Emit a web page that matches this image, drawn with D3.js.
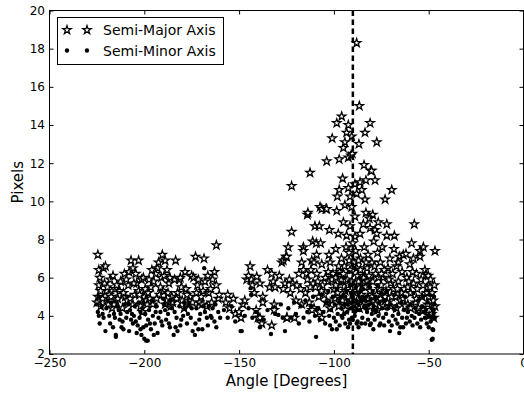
<!DOCTYPE html>
<html>
<head>
<meta charset="utf-8">
<script src="https://cdn.jsdelivr.net/npm/d3@7"></script>
<style>
  body { margin: 0; background: #fff; }
  svg text { font-family: "DejaVu Sans", sans-serif; fill: #000; }
</style>
</head>
<body>
<div id="chart"></div>
<script>
// tick values
var xTicks = [-250, -200, -150, -100, -50, 0];
var yTicks = [2, 4, 6, 8, 10, 12, 14, 16, 18, 20];
var markerAngle = -90;
var seriesNames = ["Semi-Major Axis", "Semi-Minor Axis"];

// [angle, pixels]
var majorPts = [
  [-224.5,7.2],[-224,6.4],[-223.5,6.0],[-224,5.6],[-224.5,5.0],[-225,4.7],[-223,4.5],[-222,4.9],[-221.5,6.5],[-220.5,6.6],
  [-220,5.3],[-219,4.6],[-218.5,5.1],[-218,5.9],[-217,4.4],[-216.5,6.1],[-215.5,5.4],[-215,4.8],[-214,4.9],[-213,5.3],
  [-212.5,5.8],[-211.5,4.4],[-210.5,6.2],[-210,5.0],[-209,4.8],[-208.5,5.6],[-208,6.3],[-207,6.9],[-206,6.5],[-206,4.6],
  [-205,5.1],[-204.5,6.2],[-204,5.7],[-203,6.9],[-203,5.3],[-202,4.5],[-201.5,5.9],[-201,4.2],[-200.5,6.0],[-200,5.0],
  [-199.5,5.4],[-199,4.8],
  [-198,5.2],[-197,4.9],[-196.5,5.5],[-195.5,4.6],[-195,5.8],[-194,6.2],[-193,6.5],[-192.5,6.8],[-192,5.1],[-191,6.0],
  [-190.5,7.2],[-190,5.3],[-189.5,6.1],[-189,6.9],[-188.5,4.8],[-188,6.4],[-187,5.7],[-186,4.5],[-185.5,5.0],[-185,4.7],
  [-184,5.9],[-183.5,6.9],[-182.5,5.2],[-181.5,5.9],[-181,6.0],[-180,4.8],[-179,4.4],[-178,5.4],[-177,4.6],[-176,5.0],
  [-175,6.1],[-174,6.0],[-173,7.1],[-172.5,5.2],[-172,5.6],[-171,4.7],[-170,5.0],[-169,5.3],[-168.5,7.0],[-168,5.8],
  [-167,4.5],[-166,5.2],[-165,5.4],[-164,5.9],[-163,6.3],[-162,7.7],[-162,5.6],[-161,4.9],[-160.5,5.1],
  [-157,4.7],[-156,5.1],[-155,4.4],[-153,4.9],[-152,4.1],[-150,4.2],[-149,3.9],[-148,4.6],[-147,4.8],[-146,5.9],
  [-145,6.1],[-144.2,6.6],[-143.5,5.9],[-143,5.6],[-142,5.2],[-140.7,6.05],[-141,4.3],[-140,3.9],[-139,5.7],[-139,3.9],
  [-138,3.6],[-137.5,5.0],[-137.5,4.7],[-135,6.4],[-134,5.5],[-132.8,6.2],[-132.8,3.5],[-132,5.8],[-131.5,4.6],[-131,5.5],
  [-131.5,4.3],[-128.8,6.1],[-127.5,6.8],[-126.7,6.9],[-126.7,5.4],[-125.3,7.1],[-125.8,5.7],[-124.9,7.1],[-124.9,3.9],[-124.1,7.6],
  [-124.7,3.9],[-123.5,5.9],[-123,5.2],[-122.3,10.8],[-122.3,8.4],[-121.7,5.7],[-120.8,3.9],
  [-119.5,5.6],[-117.5,5.4],[-117,6.8],[-116.1,7.6],[-116.1,7.4],[-116.1,6.4],[-114.4,6.2],[-114,9.3],[-114,5.9],[-113.7,9.4],
  [-112.6,11.5],[-112.1,6.4],[-111.7,6.9],[-111.2,7.9],[-111,5.7],[-110.5,6.8],[-110.5,4.4],[-110,8.7],[-109.7,5.5],[-109.3,7.8],
  [-109.1,7.2],[-107.7,8.7],[-107.5,4.2],[-107.3,9.7],[-107,7.8],[-106.4,9.6],[-106.4,6.7],[-106.4,3.9],[-105,5.1],[-104.2,9.6],
  [-103.8,12.1],[-103.8,9.6],[-103,5.8],[-102.6,7.2],[-102.4,8.5],[-102,6.8],[-101,4.8],[-100.9,13.3],[-100.5,6.2],[-100,5.4],
  [-99,7.5],[-98.5,14.1],[-98.5,9.5],[-98.2,10.25],[-97.7,8.3],[-97.2,12.2],[-97.2,10.6],[-97,6.3],[-96.5,5.6],[-96,7.0],
  [-95.9,14.45],[-95.4,11.2],[-95,12.8],[-95,8.9],[-94.5,6.6],[-94.2,13.1],[-94.2,9.8],[-93.6,7.6],[-93.3,13.6],[-93.3,8.2],
  [-93,5.9],[-92.4,14.0],[-92.4,12.3],[-92.4,10.7],[-92,7.3],[-91.5,10.25],[-91.5,8.7],[-91.5,6.4],[-91,12.4],[-90.6,13.4],
  [-90.6,9.7],[-90.3,12.5],[-90,7.8],[-90,5.2],
  [-89.5,6.8],[-88.9,10.9],[-88.9,9.2],[-88.9,8.15],[-88.5,7.4],[-88,18.3],[-88,10.4],[-87.5,6.1],[-86.8,13.0],[-86.6,15.0],
  [-86.2,11.0],[-86.2,8.3],[-86,7.0],[-85.3,10.6],[-85,5.6],[-84.5,8.8],[-84.1,11.9],[-84,7.6],[-83.6,13.6],[-83.6,10.1],
  [-83.1,11.1],[-83.1,9.4],[-82.5,6.5],[-82,7.2],[-81.3,9.1],[-81,5.9],[-80.9,14.1],[-80.9,8.6],[-80.6,11.6],[-80.1,11.6],
  [-80,6.8],[-79.5,9.3],[-79,7.9],[-78.3,11.1],[-78.3,8.5],[-78,6.2],[-77.4,13.1],[-77.4,8.3],[-77,7.3],[-76.6,8.9],
  [-76,5.4],[-75.5,6.8],
  [-74.5,7.6],[-74,6.0],[-73,10.1],[-72.5,5.3],[-72.1,8.8],[-72.1,8.2],[-71.5,6.5],[-70.5,7.0],[-70,5.7],[-69.5,10.6],
  [-69,6.2],[-68.3,7.5],[-68.1,8.2],[-67.5,5.0],[-67,6.6],[-66,5.8],[-65.5,7.1],[-65,4.8],[-64,6.3],[-63.4,7.2],
  [-63,5.4],[-62,7.25],[-61.5,6.0],[-61,4.6],[-60,6.7],[-59.5,5.2],[-59,7.8],[-58.1,7.0],[-58,5.7],[-57.6,8.8],
  [-57,4.7],[-56.5,6.2],[-56,5.4],[-55.5,4.4],[-54.6,7.4],[-54.6,7.1],[-54,5.9],[-53.5,5.0],[-52.8,7.6],[-52.5,4.3],
  [-52,6.4],[-51.5,6.15],[-51,5.2],[-50.8,5.5],[-50.5,4.6],[-50.2,6.1],[-49.8,4.0],[-49.3,5.5],[-49,5.9],[-48.4,4.1],
  [-48.2,5.2],[-47.6,4.8],[-47.3,3.9],[-46.7,4.5],[-46.7,7.4],[-47,5.6],
  [-108,5.0],[-106,5.6],[-104,4.7],[-103,6.3],[-102,4.4],[-101,5.9],[-99.5,4.9],[-99,6.0],[-98,5.2],[-97.5,4.5],
  [-96,5.9],[-95.5,4.8],[-95,6.2],[-94,5.3],[-93.5,4.5],[-92.5,5.6],[-92,6.9],[-91,4.8],[-90.5,5.8],[-89.5,4.6],
  [-89,5.5],[-88,6.5],[-87.5,4.9],[-87,5.8],[-86.5,4.4],[-86,6.4],[-85.5,5.1],[-84.5,6.0],[-84,4.7],[-83.5,5.5],
  [-83,6.8],[-82,4.9],[-81.5,6.1],[-81,5.3],[-80.5,4.5],[-79.5,5.8],[-79,4.8],[-78.5,6.6],[-77.5,5.1],[-77,4.3],
  [-76.5,6.0],[-75.5,4.9],[-75,5.6],[-74,4.5],[-73.5,6.4],[-73,5.0],[-71,5.9],[-70,4.5],[-68.5,5.4],[-67,4.4],
  [-66,6.8],[-64.5,5.2],[-62.5,4.5],[-61,5.5],[-59.5,4.4],[-58.5,6.3],
  [-120,4.8],[-118.5,6.2],[-117,4.6],[-115,5.2],[-113,4.7],[-112.5,5.5],[-111.5,4.3],[-109,6.2],[-108.5,5.8],
  [-223,5.3],[-221,5.7],[-219.5,5.5],[-217.5,5.0],[-216,4.6],[-214.5,5.6],[-211,5.2],[-209.5,5.9],[-207.5,4.9],[-205.5,5.7],
  [-202.5,5.1],[-198.5,4.6],[-197.5,5.9],[-196,6.4],[-193.5,4.9],[-191.5,5.5],[-189,4.6],[-187.5,5.2],[-186.5,6.0],[-183,4.9],
  [-180.5,5.5],[-178.5,6.3],[-177.5,5.1],[-174.5,4.7],[-171.5,5.9],[-169.5,4.6],[-166.5,6.1],[-164.5,4.7],[-106.5,5.3],[-104.5,6.0],
  [-99,5.6],[-97.5,6.6],[-94,4.3],[-89,5.0],[-87,6.9],[-85,4.5],[-82.5,5.8],[-80,5.0],[-78,4.6],[-75,6.2],
  [-72,4.7],[-69.5,5.0],[-66.5,5.4],[-63.5,4.9],[-60.5,5.8],[-56.5,4.9],[-53,5.6],[-50,5.0]
];

var minorPts = [
  [-225,4.6],[-224.5,4.2],[-224,5.0],[-223.5,3.6],[-222.5,4.5],[-221.5,3.9],[-220.5,3.2],[-219.5,4.8],[-218.5,4.0],[-217.5,4.7],
  [-216.5,3.4],[-215.5,3.9],[-215,3.0],[-215,2.9],[-214,4.5],[-213,3.8],[-212.5,4.1],[-212,3.4],[-211,3.3],[-210.5,4.6],
  [-209.5,3.9],[-209,4.2],[-208,3.2],[-207.5,4.3],[-207,3.8],[-206,3.6],[-205.5,4.0],[-205,4.5],[-204,3.1],[-203.5,3.5],
  [-203,4.7],[-202.5,3.9],[-202,3.3],[-201.5,3.0],[-201,4.4],[-200.5,3.4],[-200,2.8],[-199,2.7],[-198.2,2.7],[-199.5,4.1],
  [-198,3.8],[-197.5,4.3],[-196.5,3.3],[-196,4.8],[-195.5,4.0],[-194.5,3.6],[-193.5,4.5],[-193,3.1],[-192.5,3.9],[-191.5,4.2],
  [-190.5,3.5],[-190,4.9],[-189.5,4.6],[-188.5,3.8],[-187.5,4.1],[-186.5,3.4],[-185.5,4.4],[-184.5,3.0],
  [-184,4.2],[-183.5,3.4],[-182.5,3.2],[-181.5,4.5],[-180.5,3.8],[-179.5,4.0],[-178.5,4.4],[-177.5,3.6],[-176.5,4.6],[-175.5,3.9],
  [-174.5,3.2],[-173.3,3.0],[-172.5,4.4],[-171.5,3.3],[-170.5,4.1],[-169.4,3.3],[-168.4,6.5],[-168,4.2],[-167,3.9],[-166,4.5],
  [-165,4.0],[-164,4.4],[-163,3.7],[-162.5,4.6],[-161,4.2],[-160,3.9],
  [-158,4.3],[-156,3.9],[-154,4.5],[-152,3.7],[-149.2,3.2],[-148.6,3.2],[-147,4.0],[-145,4.4],[-143.9,5.45],[-143.7,5.1],
  [-143,3.9],[-141,4.2],[-139,3.4],[-137,3.8],[-135,4.3],[-133.2,3.05],[-131,4.1],[-129.3,4.05],[-128,4.6],[-127,3.9],
  [-125.8,3.2],
  [-124,4.4],[-122.5,3.9],[-121,4.7],[-120,4.1],[-118.5,3.6],[-117.5,4.5],[-116,3.9],[-115,4.8],[-114,4.2],[-112.9,3.7],
  [-112,4.5],[-111,5.0],[-110,4.0],[-109.4,2.9],[-108.5,4.4],[-107.5,3.8],[-106.5,5.1],[-105.5,4.2],[-104.6,3.6],[-104,4.7],
  [-103,5.3],[-102,3.5],[-101.5,4.3],[-100.5,5.0],[-100,3.9],
  [-99.5,4.6],[-99,3.7],[-98.5,5.4],[-98,4.1],[-97.5,4.9],[-97,3.5],[-96.5,5.7],[-96,4.4],[-95.5,3.9],[-95,5.1],
  [-94.5,4.6],[-94,3.6],[-93.5,5.3],[-93,4.2],[-92.5,4.8],[-92,3.8],[-91.5,5.6],[-91,4.4],[-90.5,3.9],[-90,5.0],
  [-90,3.8],[-89.5,4.5],[-89,4.0],[-88.5,5.5],[-88,4.7],[-87.5,3.7],[-87,5.2],[-86.5,4.3],[-86,6.0],[-85.5,4.8],
  [-85,3.9],[-84.5,5.4],[-84,4.5],[-83.5,3.6],[-83,5.0],[-82.5,4.2],[-82,5.7],[-81.5,4.6],[-81,3.52],[-80.5,4.9],
  [-80,4.1],[-79.5,5.3],[-79.2,3.3],[-79,4.5],[-78.5,3.8],[-78,5.0],[-77.5,4.3],[-77,5.6],[-76.5,4.0],[-76,4.7],
  [-75.5,3.6],[-75,5.2],
  [-98,6.2],[-95,6.0],[-92,6.3],[-89,6.5],[-86,5.3],[-84,6.2],[-96,4.0],[-93,4.6],[-91,5.2],[-89,4.2],
  [-87,4.6],[-85,5.0],[-83,4.4],[-81,5.5],[-79.5,4.3],[-94,5.0],[-88,3.6],[-97,4.7],[-91.5,3.6],[-85.5,3.6],
  [-74.5,4.4],[-74,3.9],[-73,4.8],[-72.5,4.1],[-72,5.3],[-71,3.7],[-70.4,3.2],[-70,4.6],[-69,4.0],[-68.5,5.1],
  [-67.5,3.8],[-67,4.5],[-66,4.1],[-65.5,3.1],[-65,3.4],[-64.5,4.7],[-64,3.9],[-63,4.3],[-62.5,5.0],[-62,3.6],
  [-61,4.2],[-60,3.7],[-59.5,4.6],[-59,4.0],[-58,5.2],[-57.5,3.9],[-57,4.4],[-56,3.6],[-55.5,4.8],[-55,4.1],
  [-54,3.8],[-53.5,4.5],[-53,5.0],[-52,3.9],[-51.5,4.3],[-51,3.6],[-50.5,4.7],[-50,4.0],[-49.5,5.1],[-49,3.7],
  [-48.5,4.4],[-48.4,2.75],[-48,3.3],[-47.6,3.26],[-47.9,2.8],[-47.5,4.1],[-47,4.6],[-46.8,3.9],[-47.2,5.0],
  [-224,4.0],[-222,4.1],[-220,4.4],[-218,3.6],[-216,4.1],[-213.5,4.3],[-211.5,3.7],[-208.5,4.6],[-206.5,4.1],[-204.5,3.7],
  [-202,4.2],[-200.5,4.7],[-199,3.5],[-197,3.6],[-195,3.0],[-194,4.2],[-191,3.7],[-189,4.3],[-187,3.6],[-186,4.8],
  [-183,3.9],[-181,3.5],[-179,4.7],[-177,4.1],[-175,4.4],[-173,3.6],[-171,3.8],[-169,4.5],[-166.5,3.5],[-164.5,3.9],
  [-162,3.4],[-102.5,4.0],[-101,3.3],[-98.5,3.3],[-96,5.0],[-94.5,4.1],[-92.5,3.4],[-90.5,4.7],[-88.5,4.3],[-87,3.4],
  [-85.5,5.6],[-83.5,4.8],[-82,3.8],[-80.5,3.6],[-78,4.2],[-76,3.5],[-73.5,3.5],[-71.5,4.4],[-69.5,3.5],[-68,4.3],
  [-66.5,3.6],[-63.5,3.4],[-61.5,3.9],[-58.5,3.5],[-56.5,4.2],[-54.5,3.4],[-52.5,4.2],[-50,3.4],[-48.5,3.9],[-47.3,4.3]
];

var width = 524, height = 395;
var plot = {left: 49.5, right: 523.5, top: 10.5, bottom: 354};

var svg = d3.select("#chart").append("svg")
    .attr("width", width).attr("height", height);

var x = d3.scaleLinear().domain([-250, 0]).range([plot.left, plot.right]);
var y = d3.scaleLinear().domain([2, 20]).range([plot.bottom, plot.top]);

var fmt = d3.format("d");

// axes, ticks pointing inward like old matplotlib
svg.append("g")
    .attr("transform", "translate(0," + plot.bottom + ")")
    .call(d3.axisBottom(x).tickValues(xTicks).tickFormat(fmt).tickSizeInner(-4).tickSizeOuter(0).tickPadding(4))
    .call(function(g) { g.select(".domain").remove(); g.selectAll("text").style("font-size", "12px"); });

svg.append("g")
    .attr("transform", "translate(0," + plot.top + ")")
    .call(d3.axisTop(x).tickValues(xTicks).tickFormat("").tickSizeInner(-4).tickSizeOuter(0))
    .call(function(g) { g.select(".domain").remove(); });

svg.append("g")
    .attr("transform", "translate(" + plot.left + ",0)")
    .call(d3.axisLeft(y).tickValues(yTicks).tickFormat(fmt).tickSizeInner(-4).tickSizeOuter(0).tickPadding(4.5))
    .call(function(g) { g.select(".domain").remove(); g.selectAll("text").style("font-size", "12px"); });

svg.append("g")
    .attr("transform", "translate(" + plot.right + ",0)")
    .call(d3.axisRight(y).tickValues(yTicks).tickFormat("").tickSizeInner(-4).tickSizeOuter(0))
    .call(function(g) { g.select(".domain").remove(); });

svg.selectAll(".tick line").attr("stroke", "#000");

// markers
var star = d3.symbol().type(d3.symbolStar).size(22);

svg.append("g").selectAll("path")
    .data(majorPts)
    .enter().append("path")
    .attr("d", star)
    .attr("transform", function(d) { return "translate(" + x(d[0]) + "," + y(d[1]) + ")"; })
    .attr("fill", "#fff")
    .attr("stroke", "#000")
    .attr("stroke-width", 1.25);

svg.append("g").selectAll("circle")
    .data(minorPts)
    .enter().append("circle")
    .attr("cx", function(d) { return x(d[0]); })
    .attr("cy", function(d) { return y(d[1]); })
    .attr("r", 2.2)
    .attr("fill", "#000");

// dashed line at -90
svg.append("line")
    .attr("x1", x(markerAngle)).attr("x2", x(markerAngle))
    .attr("y1", y(20)).attr("y2", y(2))
    .attr("stroke", "#000")
    .attr("stroke-width", 2.5)
    .attr("stroke-dasharray", "5.5,3.5");

// frame
svg.append("rect")
    .attr("x", plot.left).attr("y", plot.top)
    .attr("width", plot.right - plot.left).attr("height", plot.bottom - plot.top)
    .attr("fill", "none").attr("stroke", "#000").attr("stroke-width", 1);

// legend
var legend = svg.append("g");
legend.append("rect")
    .attr("x", 57.5).attr("y", 17.5).attr("width", 166).attr("height", 47)
    .attr("fill", "#fff").attr("stroke", "#000").attr("stroke-width", 1);

seriesNames.forEach(function(name, i) {
  var cy = 30 + i * 20.5;
  [67, 87].forEach(function(cx) {
    if (i === 0) {
      legend.append("path").attr("d", star)
        .attr("transform", "translate(" + cx + "," + cy + ")")
        .attr("fill", "#fff").attr("stroke", "#000").attr("stroke-width", 1.25);
    } else {
      legend.append("circle").attr("cx", cx).attr("cy", cy).attr("r", 2.2).attr("fill", "#000");
    }
  });
  legend.append("text")
    .attr("x", 103).attr("y", cy)
    .attr("dy", "0.36em")
    .style("font-size", "14px")
    .text(name);
});

// axis titles
svg.append("text")
    .attr("x", (plot.left + plot.right) / 2).attr("y", 386)
    .attr("text-anchor", "middle")
    .style("font-size", "15px")
    .text("Angle [Degrees]");

svg.append("text")
    .attr("transform", "translate(23," + ((plot.top + plot.bottom) / 2) + ") rotate(-90)")
    .attr("text-anchor", "middle")
    .style("font-size", "15px")
    .text("Pixels");
</script>
</body>
</html>
